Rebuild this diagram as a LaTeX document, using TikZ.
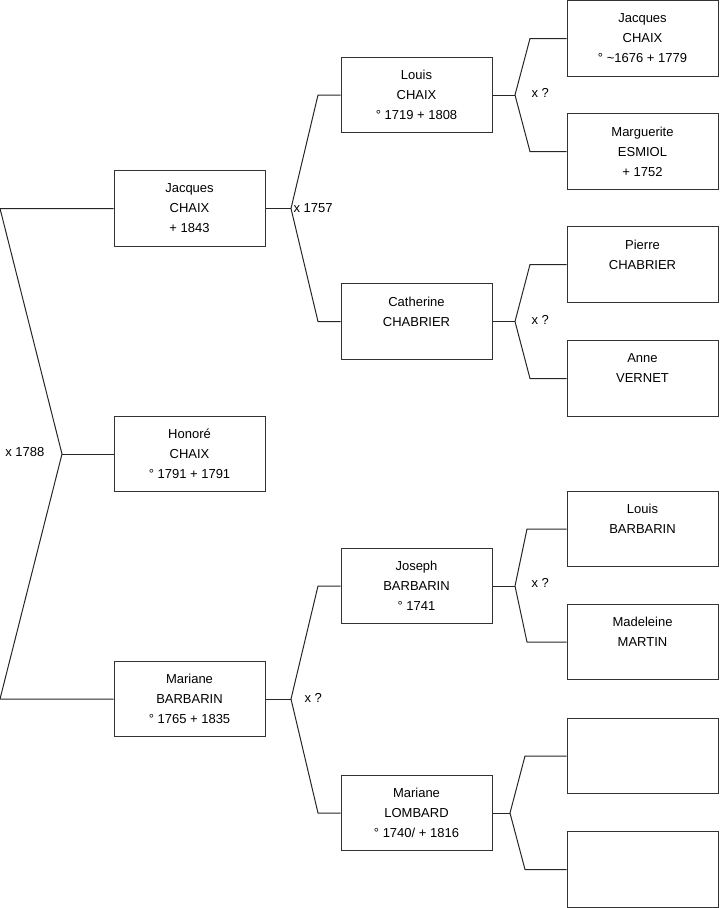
\documentclass[tikz,border=0pt]{standalone}
\usepackage{fontspec}
\setmainfont{Liberation Sans}
\usetikzlibrary{positioning}
\tikzstyle{person} = [rectangle, minimum width=113.25pt, minimum height=56.6pt, align=center, draw=black!80, line width=0.75pt, font=\fontsize{9.75}{15}\selectfont]
\tikzstyle{link} = [draw=black!85, line width=0.75pt]
\tikzstyle{union} = [font=\fontsize{9.75}{12}\selectfont, inner sep=1pt]

\begin{document}
\begin{tikzpicture}[x=0.75pt, y=-0.75pt]
		\useasboundingbox (0,0) rectangle (719,908);
		
		% Nodes
		\node (jacques) [person] at (189.5,208.5) {Jacques\\CHAIX\\+ 1843};
		\node (honore) [person] at (189.5,454) {Honoré\\CHAIX\\° 1791 + 1791};
		\node (mariane) [person] at (189.5,699) {Mariane\\BARBARIN\\° 1765 + 1835};
		\node (louis) [person] at (416.5,95) {Louis\\CHAIX\\° 1719 + 1808};
		\node (catherine) [person] at (416.5,321.5) {Catherine\\CHABRIER\\\mbox{}};
		\node (joseph) [person] at (416.5,586) {Joseph\\BARBARIN\\° 1741};
		\node (lombard) [person] at (416.5,813) {Mariane\\LOMBARD\\° 1740/ + 1816};
		\node (jacquesp) [person] at (642.5,38.5) {Jacques\\CHAIX\\° \textasciitilde1676 + 1779};
		\node (esmiol) [person] at (642.5,151.5) {Marguerite\\ESMIOL\\+ 1752};
		\node (pierre) [person] at (642.5,264.5) {Pierre\\CHABRIER\\\mbox{}};
		\node (anne) [person] at (642.5,378.5) {Anne\\VERNET\\\mbox{}};
		\node (louisb) [person] at (642.5,529) {Louis\\BARBARIN\\\mbox{}};
		\node (madeleine) [person] at (642.5,642) {Madeleine\\MARTIN\\\mbox{}};
		\node (unknowna) [person] at (642.5,756) {};
		\node (unknownb) [person] at (642.5,869.5) {};
		
		% Junctions
		\coordinate (j0) at (0,208.5);
		\coordinate (j1) at (62,454);
		\coordinate (j2) at (0,699);
		\coordinate (k1) at (291,208.5);
		\coordinate (k1a) at (318,95);
		\coordinate (k1b) at (318,321.5);
		\coordinate (k2) at (291,699);
		\coordinate (k2a) at (318,586);
		\coordinate (k2b) at (318,813);
		\coordinate (l1) at (515,95);
		\coordinate (l1a) at (530,38.5);
		\coordinate (l1b) at (530,151.5);
		\coordinate (l2) at (515,321.5);
		\coordinate (l2a) at (530,264.5);
		\coordinate (l2b) at (530,378.5);
		\coordinate (l3) at (515,586);
		\coordinate (l3a) at (527,529);
		\coordinate (l3b) at (527,642);
		\coordinate (l4) at (510,813);
		\coordinate (l4a) at (525,756);
		\coordinate (l4b) at (525,869.5);
		
		% Links
		\draw [link] (jacques.west) -- (j0) -- (j1) -- (j2) -- (mariane.west);
		\draw [link] (j1) -- (honore.west);
		\draw [link] (jacques.east) -- (k1);
		\draw [link] (louis.west) -- (k1a) -- (k1) -- (k1b) -- (catherine.west);
		\draw [link] (mariane.east) -- (k2);
		\draw [link] (joseph.west) -- (k2a) -- (k2) -- (k2b) -- (lombard.west);
		\draw [link] (louis.east) -- (l1);
		\draw [link] (jacquesp.west) -- (l1a) -- (l1) -- (l1b) -- (esmiol.west);
		\draw [link] (catherine.east) -- (l2);
		\draw [link] (pierre.west) -- (l2a) -- (l2) -- (l2b) -- (anne.west);
		\draw [link] (joseph.east) -- (l3);
		\draw [link] (louisb.west) -- (l3a) -- (l3) -- (l3b) -- (madeleine.west);
		\draw [link] (lombard.east) -- (l4);
		\draw [link] (unknowna.west) -- (l4a) -- (l4) -- (l4b) -- (unknownb.west);
		
		% Marriages
		\node (m1788) [union, anchor=east] at (46,452) {x 1788};
		\node (m1757) [union, anchor=west] at (292,208) {x 1757};
		\node (mbarbarin) [union, anchor=west] at (303,698) {x ?};
		\node (mchaix) [union, anchor=west] at (530,93) {x ?};
		\node (mchabrier) [union, anchor=west] at (530,320) {x ?};
		\node (mjoseph) [union, anchor=west] at (530,583) {x ?};
		
	\end{tikzpicture}
\end{document}
